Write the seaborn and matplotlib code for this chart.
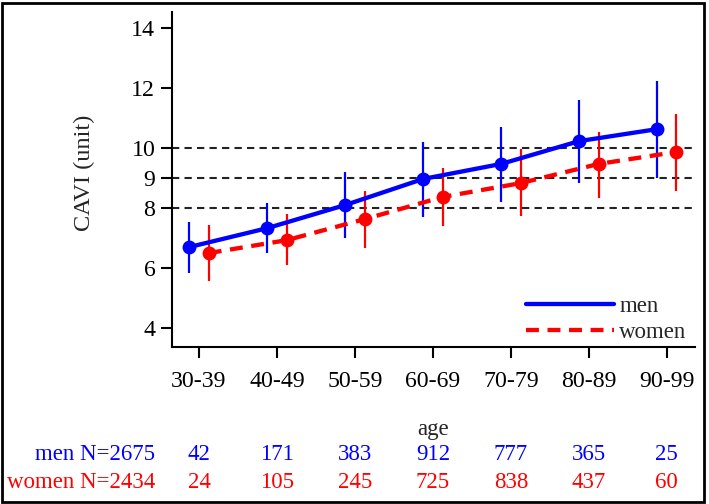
import matplotlib
matplotlib.use("Agg")
import numpy as np
import pandas as pd
import seaborn as sns
import matplotlib.pyplot as plt
from matplotlib.lines import Line2D
from matplotlib.patches import Rectangle
from matplotlib.transforms import blended_transform_factory

# ---- data ----
ages = ["30-39", "40-49", "50-59", "60-69", "70-79", "80-89", "90-99"]
men_mean = [6.70, 7.33, 8.10, 8.97, 9.47, 10.23, 10.63]
men_low = [5.83, 6.50, 7.00, 7.70, 8.20, 8.83, 9.00]
men_high = [7.53, 8.17, 9.20, 10.20, 10.70, 11.60, 12.23]
women_mean = [6.50, 6.93, 7.63, 8.37, 8.83, 9.47, 9.87]
women_low = [5.57, 6.10, 6.67, 7.40, 7.73, 8.33, 8.57]
women_high = [7.43, 7.80, 8.57, 9.33, 9.97, 10.53, 11.13]
men_n = [42, 171, 383, 912, 777, 365, 25]
women_n = [24, 105, 245, 725, 838, 437, 60]
men_total = 2675
women_total = 2434
ref_lines = [8, 9, 10]
yticks = [4, 6, 8, 9, 10, 12, 14]

sns.set_theme(style="ticks")
plt.rcParams["font.family"] = ["Liberation Serif", "DejaVu Serif"]
FS = 16.5
TFS = 17.2

BLUE = "#0000ff"
RED = "#ff0000"
dodge = 0.125

idx = np.arange(len(ages))
df = pd.concat([
    pd.DataFrame({"x": idx - dodge, "cavi": men_mean, "lo": men_low, "hi": men_high, "sex": "men"}),
    pd.DataFrame({"x": idx + dodge, "cavi": women_mean, "lo": women_low, "hi": women_high, "sex": "women"}),
], ignore_index=True)

fig = plt.figure(figsize=(7.09, 5.04), dpi=100)
ax = fig.add_axes([0.2426, 0.3115, 0.98 - 0.2426, 0.976 - 0.3115])

for v in ref_lines:
    ax.axhline(v, color="#222222", lw=1.5, ls=(0, (3.5, 2.5)), zorder=0)

palette = {"men": BLUE, "women": RED}
for sex, g in df.groupby("sex"):
    ax.vlines(g["x"], g["lo"], g["hi"], colors=palette[sex], lw=1.6, zorder=2)

sns.lineplot(data=df, x="x", y="cavi", hue="sex", style="sex",
             palette=palette, dashes={"men": "", "women": (3, 2)},
             markers={"men": "o", "women": "o"}, markersize=10,
             markeredgewidth=0, linewidth=3.1, legend=False, ax=ax, zorder=3)

ax.set_xlim(-0.346, 6.36)
ax.set_ylim(3.37, 14.53)
ax.set_yticks(yticks)
ax.set_yticklabels([str(t) for t in yticks])
ax.set_xticks(idx)
ax.set_xticklabels(ages)
ax.tick_params(axis="both", length=8, width=1.5, color="black", labelsize=TFS,
               labelcolor="black", direction="out")
ax.tick_params(axis="x", pad=9)
ax.tick_params(axis="y", pad=4)
for s in ["top", "right"]:
    ax.spines[s].set_visible(False)
for s in ["left", "bottom"]:
    ax.spines[s].set_linewidth(1.5)
    ax.spines[s].set_color("black")

ax.set_xlabel("age", fontsize=FS, labelpad=20)
ax.set_ylabel("CAVI (unit)", fontsize=17.5)
ax.yaxis.set_label_coords(-0.147, 0.52)

handles = [Line2D([], [], color=BLUE, lw=3.1),
           Line2D([], [], color=RED, lw=3.1, ls=(0, (3, 2)))]
ax.legend(handles, ["men", "women"], loc="lower right", bbox_to_anchor=(1.015, -0.035),
          frameon=False, fontsize=FS, handlelength=3.85, handletextpad=0.22,
          labelspacing=0.2, borderpad=0.2)

tr = blended_transform_factory(ax.transData, fig.transFigure)
y_men = 1 - 455 / 504
y_women = 1 - 483 / 504
for i in idx:
    ax.text(i, y_men, str(men_n[i]), transform=tr, ha="center", va="center",
            color=BLUE, fontsize=FS)
    ax.text(i, y_women, str(women_n[i]), transform=tr, ha="center", va="center",
            color=RED, fontsize=FS)
fig.text(155 / 709, y_men, f"men N={men_total}", ha="right", va="center", color=BLUE, fontsize=FS)
fig.text(155 / 709, y_women, f"women N={women_total}", ha="right", va="center", color=RED, fontsize=FS)

fig.patches.append(Rectangle((1.5 / 709, 2 / 504), 702.5 / 709, 499 / 504,
                             transform=fig.transFigure, fill=False, lw=2, ec="black"))

fig.savefig("out.png", dpi=100)
